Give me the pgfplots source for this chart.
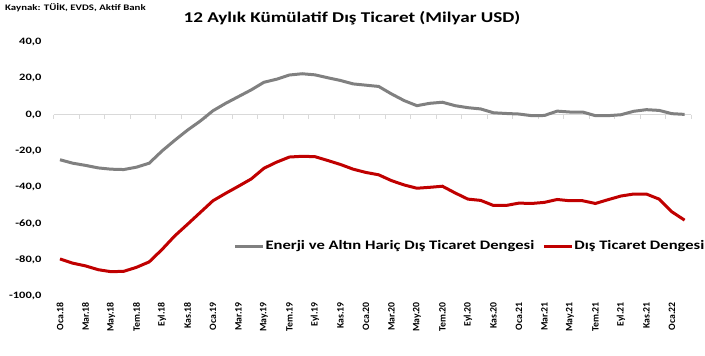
\documentclass[border=0pt]{standalone}
\usepackage{pgfplots}
\pgfplotsset{compat=1.18}
\usepackage{fontspec}
\setmainfont{Carlito}[FakeStretch=1.28]
\newfontfamily\xlab{Carlito}
\definecolor{lgray}{RGB}{128,128,128}
\definecolor{dred}{RGB}{192,0,0}
\definecolor{axgray}{RGB}{217,217,217}
\pgfplotstableread{
i enerji dis
0 -24.9 -79.6
1 -26.8 -81.9
2 -28.0 -83.4
3 -29.4 -85.5
4 -30.1 -86.6
5 -30.3 -86.4
6 -29.0 -84.2
7 -26.8 -81.2
8 -20.1 -74.4
9 -14.2 -66.9
10 -8.6 -60.5
11 -3.6 -54.0
12 2.1 -47.5
13 6.2 -43.4
14 9.9 -39.5
15 13.6 -35.5
16 17.8 -29.6
17 19.5 -26.2
18 21.8 -23.4
19 22.5 -23.0
20 21.9 -23.2
21 20.3 -25.3
22 18.8 -27.5
23 16.9 -30.1
24 16.2 -31.9
25 15.5 -33.2
26 11.4 -36.4
27 7.7 -38.8
28 4.9 -40.6
29 6.2 -40.1
30 6.8 -39.5
31 4.9 -43.2
32 3.8 -46.6
33 3.1 -47.3
34 1.0 -50.1
35 0.6 -50.1
36 0.3 -48.8
37 -0.6 -49.0
38 -0.5 -48.4
39 1.9 -46.8
40 1.4 -47.5
41 1.4 -47.5
42 -0.6 -49.0
43 -0.6 -46.9
44 -0.1 -44.9
45 1.8 -43.8
46 2.7 -43.8
47 2.3 -46.6
48 0.5 -53.6
49 0.1 -58.2
}\datatable
\begin{document}
\begin{tikzpicture}
\useasboundingbox (0,0) rectangle (705bp,356bp);
\begin{axis}[
  at={(53.6bp,60bp)}, anchor=south west,
  scale only axis, width=637.4bp, height=254bp,
  xmin=-0.5, xmax=49.5, ymin=-100, ymax=40,
  axis x line*=bottom, axis y line*=left,
  axis line style={draw=none},
  clip=false,
  xtick={0,2,...,48},
  xticklabels={Oca.18,Mar.18,May.18,Tem.18,Eyl.18,Kas.18,Oca.19,Mar.19,May.19,Tem.19,Eyl.19,Kas.19,Oca.20,Mar.20,May.20,Tem.20,Eyl.20,Kas.20,Oca.21,Mar.21,May.21,Tem.21,Eyl.21,Kas.21,Oca.22},
  ytick={-100,-80,...,40},
  yticklabels={{-100,0},{-80,0},{-60,0},{-40,0},{-20,0},{0,0},{20,0},{40,0}},
  major tick length=0pt,
  tick style={draw=none},
  x tick label style={yshift=-6bp, rotate=90, anchor=east, inner sep=0pt, font=\xlab\bfseries\fontsize{9.8}{10}\selectfont},
  y tick label style={anchor=east, inner sep=0pt, xshift=-12bp, font=\bfseries\fontsize{9.8}{10}\selectfont},
  legend columns=2,
  legend style={draw=none, fill=none, at={(axis cs:13.6,-72.5)}, anchor=west,
    font=\bfseries\fontsize{13}{14}\selectfont, inner sep=0pt,
    nodes={inner xsep=1bp, inner ysep=1bp},
    /tikz/every even column/.append style={column sep=7bp}},
  legend image code/.code={\draw[#1] (0bp,0bp) -- (28bp,0bp);},
]
\addplot[axgray, line width=1bp, forget plot] coordinates {(-0.5,0) (49.5,0)};
\addplot[axgray, line width=0.8bp, ycomb, forget plot] coordinates {
(-0.5,-2.2) (1.5,-2.2) (3.5,-2.2) (5.5,-2.2) (7.5,-2.2) (9.5,-2.2) (11.5,-2.2) (13.5,-2.2) (15.5,-2.2) (17.5,-2.2) (19.5,-2.2) (21.5,-2.2) (23.5,-2.2) (25.5,-2.2) (27.5,-2.2) (29.5,-2.2) (31.5,-2.2) (33.5,-2.2) (35.5,-2.2) (37.5,-2.2) (39.5,-2.2) (41.5,-2.2) (43.5,-2.2) (45.5,-2.2) (47.5,-2.2) (49.5,-2.2)};
\addplot[lgray, line width=3bp] table[x=i, y=enerji] {\datatable};
\addlegendentry{Enerji ve Altın Hariç Dış Ticaret Dengesi}
\addplot[dred, line width=3bp] table[x=i, y=dis] {\datatable};
\addlegendentry{Dış Ticaret Dengesi}
\end{axis}
\node[anchor=west, font=\bfseries\fontsize{8.5}{9}\selectfont, inner sep=0pt] at (5bp,348bp) {Kaynak: TÜİK, EVDS, Aktif Bank};
\node[font=\bfseries\fontsize{15}{16}\selectfont, inner sep=0pt] at (352bp,338bp) {12 Aylık Kümülatif Dış Ticaret (Milyar USD)};
\end{tikzpicture}
\end{document}
